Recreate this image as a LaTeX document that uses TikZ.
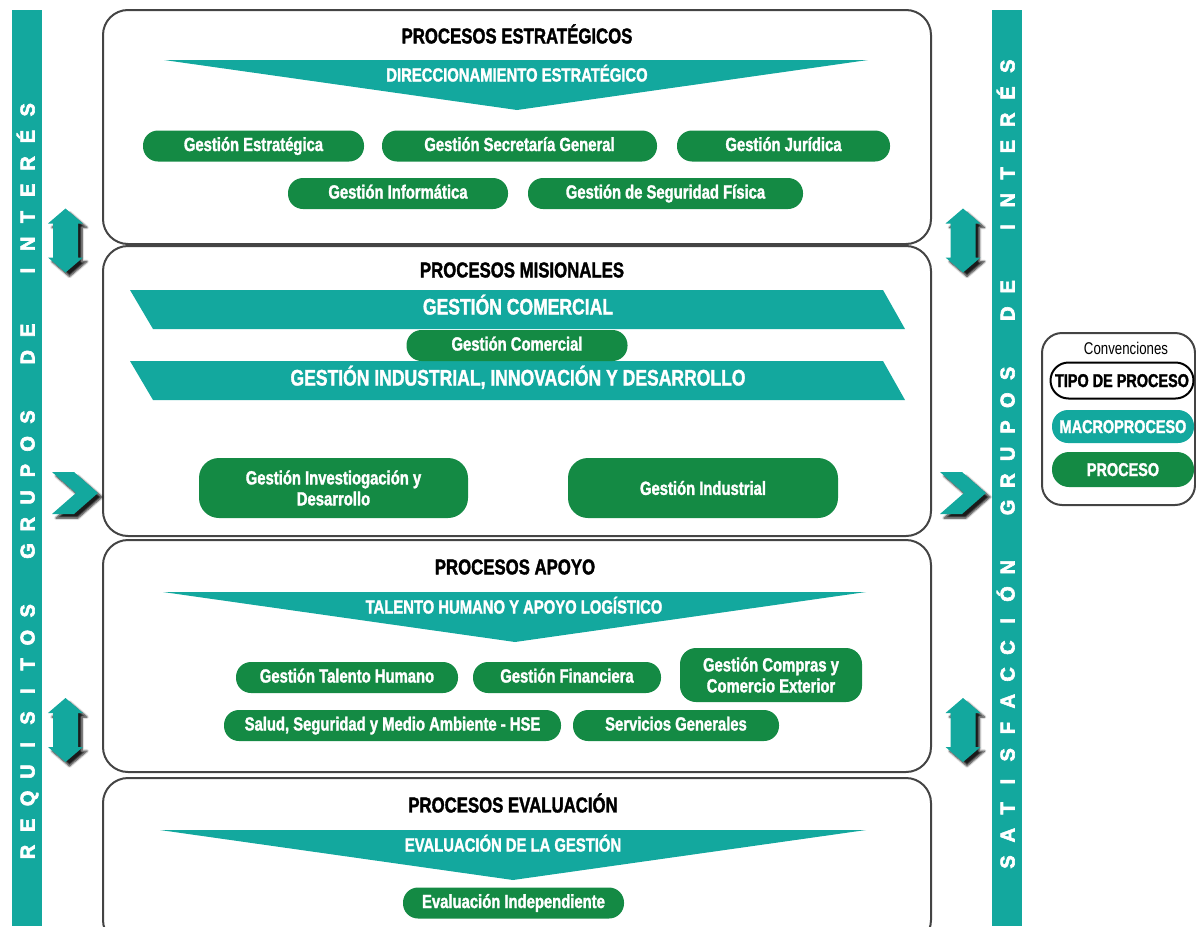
\documentclass[tikz,border=0pt]{standalone}
\usepackage{fontspec}
\setmainfont{Liberation Sans}[FakeStretch=0.78, BoldFeatures={FakeBold=1.6}]
\newfontfamily\widefont{Liberation Sans}[FakeBold=3]
\usetikzlibrary{shadows.blur}
\definecolor{teal1}{HTML}{13A89E}
\definecolor{green1}{HTML}{148A44}
\definecolor{frame}{HTML}{444444}
\tikzset{
  procbox/.style={draw=frame, line width=2pt, rounded corners=25pt},
  titletext/.style={font=\fontsize{21.5}{22}\selectfont\bfseries, inner sep=0pt},
  pill/.style={fill=green1, rounded corners=15pt, text=white, font=\fontsize{19}{20}\selectfont\bfseries, inner sep=0pt, minimum height=31pt, text height=13pt, text depth=3pt},
  pilltwo/.style={fill=green1, text=white, inner sep=0pt, rounded corners=20pt, minimum height=60pt, align=center, font=\fontsize{19}{21}\selectfont\bfseries},
  bannerfill/.style={fill=teal1},
  bannertext/.style={text=white, font=\fontsize{19}{20}\selectfont\bfseries, inner sep=0pt, text height=14pt, text depth=3pt},
  bigbannertext/.style={text=white, font=\fontsize{22.5}{24}\selectfont\bfseries, inner sep=0pt, text height=16pt, text depth=3pt},
  sideletter/.style={text=white, rotate=90, anchor=base, font=\widefont\fontsize{20}{21}\selectfont\bfseries, inner sep=0pt},
  arrowshape/.style={fill=teal1, blur shadow={shadow xshift=4pt, shadow yshift=-4pt, shadow opacity=90, shadow blur steps=6}},
  legendpill/.style={rounded corners=16pt, inner sep=0pt, font=\fontsize{18.5}{19}\selectfont\bfseries, text height=13pt, text depth=0pt},
}
\begin{document}
\begin{tikzpicture}[x=1pt, y=-1pt]
\useasboundingbox (0,0) rectangle (1196,926);

% side bars
\fill[teal1] (12,10) rectangle (42,926);
\fill[teal1] (992,10) rectangle (1022,926);
\foreach \ch/\i/\w [count=\n] in {R/0/0,E/1/0,Q/2/0,U/3/0,I/4/0,S/5/0,I/6/0,T/7/0,O/8/0,S/9/0,
  G/10/1,R/11/1,U/12/1,P/13/1,O/14/1,S/15/1,D/16/2,E/17/2,
  I/18/3,N/19/3,T/20/3,E/21/3,R/22/3,É/23/3,S/24/3}
  \node[sideletter] (L\n) at (34.5,{852-\i*26.8-\w*33}) {\ch};
\foreach \ch/\i/\w [count=\n] in {S/0/0,A/1/0,T/2/0,I/3/0,S/4/0,F/5/0,A/6/0,C/7/0,C/8/0,I/9/0,Ó/10/0,N/11/0,
  G/12/1,R/13/1,U/14/1,P/15/1,O/16/1,S/17/1,D/18/2,E/19/2,
  I/20/3,N/21/3,T/22/3,E/23/3,R/24/3,É/25/3,S/26/3}
  \node[sideletter] (R\n) at (1014.5,{862-\i*26.8-\w*33}) {\ch};

% process boxes
\draw[procbox] (103,10) rectangle (931,244);
\draw[procbox] (103,246) rectangle (931,536);
\draw[procbox] (103,540) rectangle (931,772);
\begin{scope}
\clip (0,0) rectangle (1196,926);
\draw[procbox] (103,778) rectangle (931,945);
\end{scope}

% titles
\node[titletext] (t1) at (517,34) {PROCESOS ESTRATÉGICOS};
\node[titletext] (t2) at (522,270) {PROCESOS MISIONALES};
\node[titletext] (t3) at (515,567) {PROCESOS APOYO};
\node[titletext] (t4) at (513,803) {PROCESOS EVALUACIÓN};

% strategic
\fill[bannerfill] (164,60) -- (868,60) -- (517,110) -- cycle;
\node[bannertext] (b1) at (517,76) {DIRECCIONAMIENTO ESTRATÉGICO};
\node[pill, minimum width=221pt] (p1) at (253.5,146) {Gestión Estratégica};
\node[pill, minimum width=275pt] (p2) at (519.5,146) {Gestión Secretaría General};
\node[pill, minimum width=213pt] (p3) at (783.5,146) {Gestión Jurídica};
\node[pill, minimum width=220pt] (p4) at (398,193.5) {Gestión Informática};
\node[pill, minimum width=275pt] (p5) at (665.5,193.5) {Gestión de Seguridad Física};

% misional
\fill[bannerfill] (130,290) -- (883,290) -- (905,329) -- (153,329) -- cycle;
\node[bigbannertext] (b2) at (518,308) {GESTIÓN COMERCIAL};
\fill[bannerfill] (130,361) -- (883,361) -- (905,400) -- (153,400) -- cycle;
\node[bigbannertext] (b3) at (518,379) {GESTIÓN INDUSTRIAL, INNOVACIÓN Y DESARROLLO};
\node[pill, minimum width=221pt] (p6) at (517,345.5) {Gestión Comercial};
\node[pilltwo, minimum width=269pt] (p7) at (333.5,488) {Gestión Investiogación y\\Desarrollo};
\node[pilltwo, minimum width=270pt] (p8) at (703,488) {Gestión Industrial};

% apoyo
\fill[bannerfill] (163,592) -- (866,592) -- (515,642) -- cycle;
\node[bannertext] (b4) at (514,608) {TALENTO HUMANO Y APOYO LOGÍSTICO};
\node[pill, minimum width=222pt] (p9) at (347,677.5) {Gestión Talento Humano};
\node[pilltwo, minimum width=182pt, minimum height=54pt, rounded corners=16pt] (p11) at (771,675) {Gestión Compras y\\Comercio Exterior};
\node[pill, minimum width=188pt] (p10) at (567,677.5) {Gestión Financiera};
\node[pill, minimum width=337pt] (p12) at (392.5,725.5) {Salud, Seguridad y Medio Ambiente - HSE};
\node[pill, minimum width=206pt] (p13) at (676,725.5) {Servicios Generales};

% evaluacion
\fill[bannerfill] (160,830) -- (866,830) -- (513,880) -- cycle;
\node[bannertext] (b5) at (513,846) {EVALUACIÓN DE LA GESTIÓN};
\node[pill, minimum width=221pt] (p14) at (513.5,903) {Evaluación Independiente};

% double arrows
\foreach \cx/\cy [count=\k] in {65.5/240.5, 65.5/730, 963/240.5, 963/730}
  \path[arrowshape] (\cx,\cy-32) -- (\cx+17.5,\cy-17) -- (\cx+12.5,\cy-17) -- (\cx+12.5,\cy+17)
    -- (\cx+17.5,\cy+17) -- (\cx,\cy+32) -- (\cx-17.5,\cy+17) -- (\cx-12.5,\cy+17)
    -- (\cx-12.5,\cy-17) -- (\cx-17.5,\cy-17) -- cycle;

% chevrons
\foreach \dx in {0, 888}
  \path[arrowshape] (52+\dx,472) -- (74+\dx,472) -- (98+\dx,493) -- (74+\dx,514) -- (52+\dx,514) -- (76+\dx,493) -- cycle;

% legend
\draw[draw=frame, line width=2pt, rounded corners=20pt] (1042,333) rectangle (1195,505);
\node[inner sep=0pt, font=\fontsize{17}{18}\selectfont] (lg0) at (1126,348) {Convenciones};
\node[legendpill, draw=black, line width=2pt, fill=white, minimum width=143pt, minimum height=36pt, rounded corners=18pt] (lg1) at (1122,380.5) {TIPO DE PROCESO};
\node[legendpill, fill=teal1, text=white, minimum width=142pt, minimum height=33pt] (lg2) at (1123,426.5) {MACROPROCESO};
\node[legendpill, fill=green1, text=white, minimum width=142pt, minimum height=35pt, rounded corners=17pt] (lg3) at (1123,469.5) {PROCESO};
\end{tikzpicture}
\end{document}
